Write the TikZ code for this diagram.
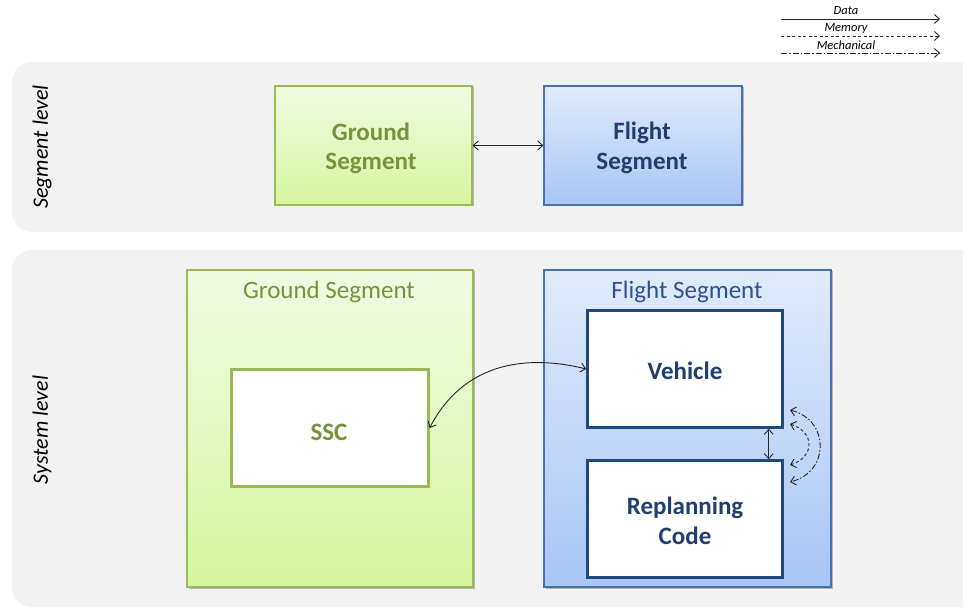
\documentclass[tikz,border=0pt]{standalone}
\usepackage{fontspec}
\setmainfont{Carlito}
\usetikzlibrary{arrows.meta,shadows}
\definecolor{panel}{HTML}{F2F2F2}
\definecolor{gtop}{HTML}{F1FBE3}
\definecolor{gbot}{HTML}{D5F59E}
\definecolor{gborder}{HTML}{98B954}
\definecolor{gtext}{HTML}{77933C}
\definecolor{btop}{HTML}{E1EBFB}
\definecolor{bbot}{HTML}{A8C5F6}
\definecolor{bborder}{HTML}{4A72A8}
\definecolor{bdark}{HTML}{1F497D}
\definecolor{btext}{HTML}{1F3F6E}
\definecolor{btitle}{HTML}{2E528F}
\begin{document}
\begin{tikzpicture}[x=1pt,y=-1pt,
  panelbox/.style={fill=panel, rounded corners=20pt},
  shad/.style={drop shadow={shadow xshift=1.5pt, shadow yshift=-1.5pt, opacity=0.25, fill=black}},
  gbox/.style={shade, top color=gtop, bottom color=gbot, draw=gborder, line width=1.2pt, shad},
  bbox/.style={shade, top color=btop, bottom color=bbot, draw=bborder, line width=1.2pt, shad},
  gin/.style={fill=white, draw=gborder, line width=2.2pt, minimum width=197, minimum height=117},
  bin/.style={fill=white, draw=bdark, line width=2.5pt, minimum width=195, minimum height=117},
  gbold/.style={font=\fontsize{25}{29}\selectfont\bfseries, text=gtext, align=center},
  bbold/.style={font=\fontsize{25}{30}\selectfont\bfseries, text=btext, align=center},
  sidelabel/.style={rotate=90, font=\fontsize{22}{26}\selectfont\itshape, text=black},
  legtext/.style={font=\fontsize{12.5}{14}\selectfont\itshape, text=black, inner sep=0pt},
  arr/.style={{Straight Barb[length=5pt,width=9pt]}-{Straight Barb[length=5pt,width=9pt]}, line width=0.9pt, black!85},
  legarr/.style={-{Straight Barb[length=5pt,width=9pt]}, line width=0.9pt, black!85}
]
\useasboundingbox (0,0) rectangle (963,609);
\fill[white] (0,0) rectangle (963,609);

% panels
\fill[panelbox] (12,62) rectangle (1000,232);
\fill[panelbox] (12,250) rectangle (1000,607);
\node[sidelabel] (lseg) at (42,147) {Segment level};
\node[sidelabel] (lsys) at (42,430) {System level};

% segment level
\node[gbox, minimum width=197, minimum height=119] (gs) at (373.5,145.5) {};
\node[gbold] (gsT) at (371,148) {Ground\\Segment};
\node[bbox, minimum width=198, minimum height=119] (fs) at (643,145.5) {};
\node[bbold] (fsT) at (642,148) {Flight\\Segment};
\draw[arr] (gs) -- (fs);

% system level
\node[gbox, minimum width=286, minimum height=317] (gsys) at (330,428.5) {};
\node[bbox, minimum width=287, minimum height=317] (fsys) at (687.5,428.5) {};
\node[font=\fontsize{25}{29}\selectfont, text=gtext] (gtitle) at (329,292) {Ground Segment};
\node[font=\fontsize{25}{29}\selectfont, text=btitle] (ftitle) at (687,292) {Flight Segment};

\node[gin] (ssc) at (330,428) {};
\node[gbold] (sscT) at (329,432) {SSC};
\node[bin] (veh) at (685,369) {};
\node[bbold] (vehT) at (685,371) {Vehicle};
\node[bin] (rep) at (685,519) {};
\node[bbold] (repT) at (685,521) {Replanning\\Code};

\draw[arr] (ssc.east) .. controls (465,360) and (530,355) .. (veh.west);
\draw[arr] ([xshift=-15pt]veh.south east) -- ([xshift=-15pt]rep.north east);

\coordinate (m1) at (790,410);
\coordinate (m2) at (790,482);
\coordinate (d1) at (790,424);
\coordinate (d2) at (790,465);
\draw[arr, dash pattern=on 6pt off 2pt on 1.5pt off 2pt] (m1) .. controls (830,420) and (830,472) .. (m2);
\draw[arr, dash pattern=on 3pt off 2.5pt] (d1) .. controls (815,432) and (815,457) .. (d2);

% legend
\coordinate (la1) at (781,19);  \coordinate (lb1) at (940,19);
\coordinate (la2) at (781,36);  \coordinate (lb2) at (940,36);
\coordinate (la3) at (781,53);  \coordinate (lb3) at (940,53);
\draw[legarr] (la1) -- (lb1);
\draw[legarr, dash pattern=on 3pt off 2.5pt] (la2) -- (lb2);
\draw[legarr, dash pattern=on 6pt off 2pt on 1.5pt off 2pt] (la3) -- (lb3);
\node[legtext] (tdata) at (846,11) {Data};
\node[legtext] (tmem) at (846,28.5) {Memory};
\node[legtext] (tmech) at (846,45.5) {Mechanical};
\end{tikzpicture}
\end{document}
